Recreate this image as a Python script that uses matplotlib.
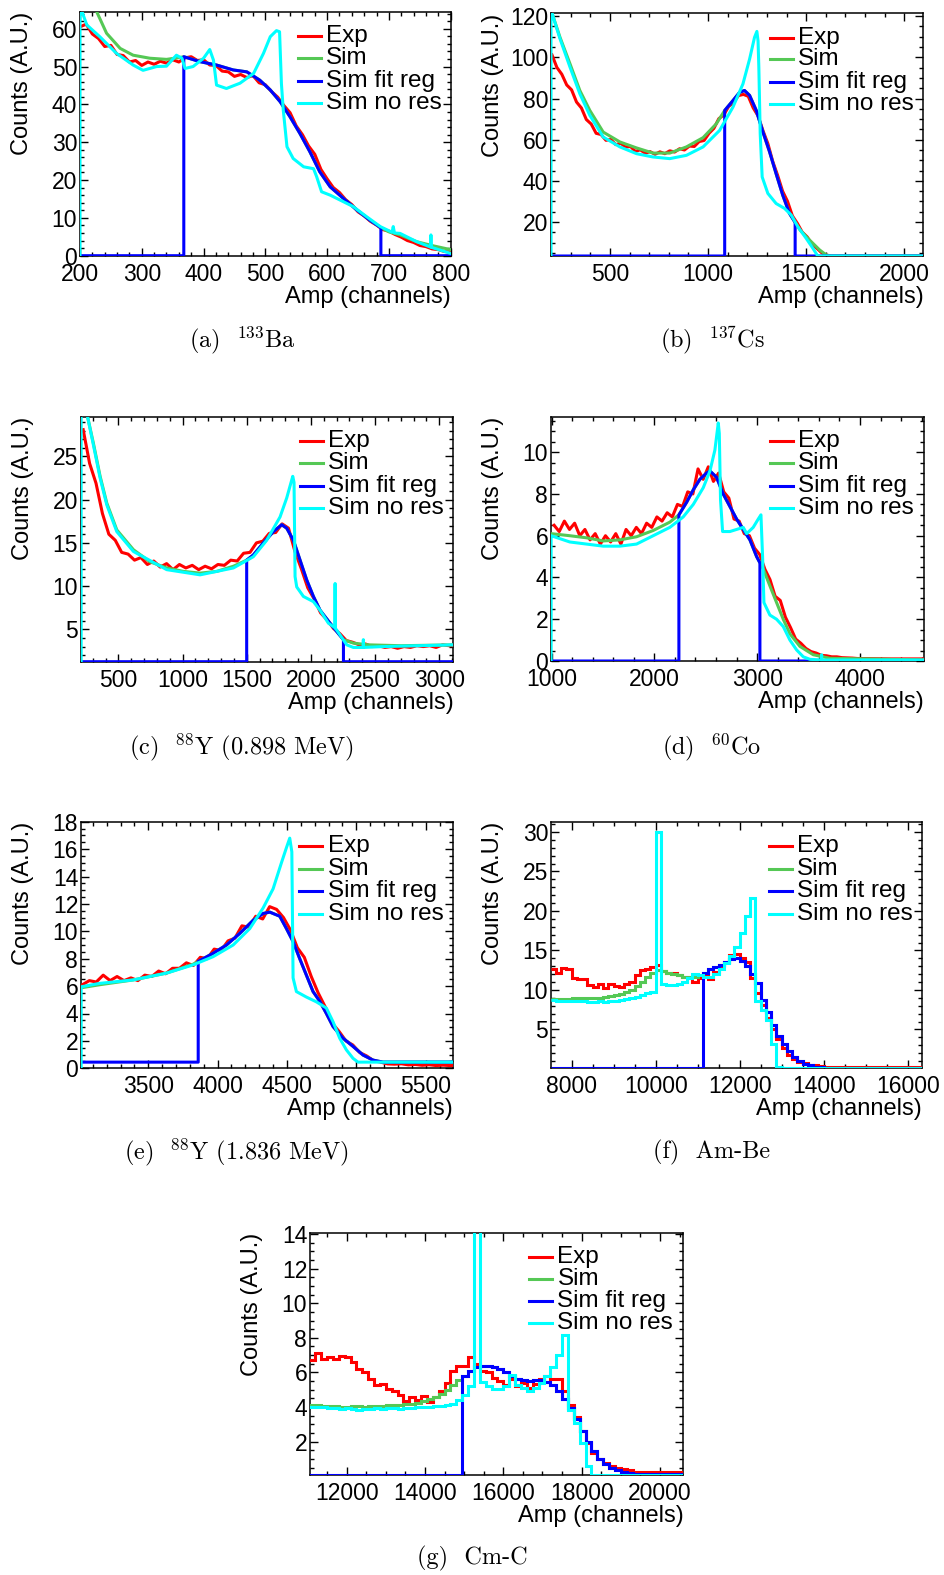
import numpy as np
import matplotlib
matplotlib.use("Agg")
import matplotlib.pyplot as plt
from matplotlib.ticker import MultipleLocator

plt.rcParams["font.family"] = "Liberation Sans"
plt.rcParams["mathtext.fontset"] = "cm"

LABELS = ["Exp", "Sim", "Sim fit reg", "Sim no res"]
COLORS = ["#ff0000", "#55c855", "#0000ff", "#00ffff"]

# ---------------- (a) 133Ba ----------------
a_exp_x0, a_exp_dx = 200, 10
a_exp = [60.5, 61.2, 58.6, 57.4, 55.3, 55.6, 53.2, 52.9, 51.2, 51.6, 50.3, 51.2, 50.6, 51.4, 50.9,
         51.8, 51.2, 52.3, 52.6, 51.6, 51.8, 50.4, 50.3, 48.8, 48.6, 47.4, 47.9, 47.1, 47.6, 45.7,
         45.2, 43.4, 41.9, 39.7, 37.8, 34.3, 32.0, 29.0, 26.8, 22.8, 20.3, 18.0, 16.7, 14.8, 13.5,
         11.6, 10.5, 9.1, 8.1, 6.9, 6.5, 5.6, 4.9, 4.0, 3.5, 2.7, 2.4, 1.8, 1.6, 1.1, 1.0]
a_sim_x = [200, 215, 227, 243, 265, 286, 313, 340, 362, 368, 394, 421, 448, 470, 491, 508, 524,
           540, 556, 572, 588, 605, 626, 648, 669, 687, 700, 718, 745, 772, 800]
a_sim = [72, 67, 64.5, 58.8, 54.8, 53, 52.2, 51.9, 52.4, 52.6, 51.3, 50.4, 49.1, 48.6, 46.4, 43.8,
         40.7, 36.7, 32.3, 27.5, 22.2, 18.2, 15.2, 12.1, 9.4, 7.4, 6.3, 5.5, 3.7, 2.6, 1.6]
a_fit = (368, 687)
a_nores_x = [200, 200, 211, 232, 259, 286, 302, 324, 340, 356, 365, 370, 383, 400, 410, 416, 421,
             437, 459, 481, 497, 508, 518, 523, 526, 529, 535, 545, 562, 578, 583, 591, 605, 626,
             642, 664, 686, 705, 707, 709, 718, 745, 767, 768, 769, 800]
a_nores = [0, 66, 61, 57.9, 53.5, 50.4, 49, 50, 50.1, 53, 52.2, 49.5, 50, 52.2, 54.5, 51.7, 45.1,
           44.2, 45.6, 48.2, 53.5, 57.9, 59.5, 59.2, 45.5, 38.5, 28.8, 25.7, 23.5, 23, 20.9, 16.9,
           16, 14.3, 13, 10.3, 7.7, 6.2, 7.7, 6.0, 5.9, 3.7, 2.3, 5.5, 2.2, 0.6]

# ---------------- (b) 137Cs ----------------
b_exp_x0, b_exp_dx = 205, 25
b_exp = [101.2, 95.1, 91.8, 86.6, 84.2, 78.3, 75.4, 69.8, 67.6, 63.1, 62.5, 59.7, 60.1, 57.6, 58.3,
         56.4, 56.7, 54.3, 55.1, 53.4, 54.2, 52.9, 54.1, 53.2, 54.6, 54.0, 55.6, 55.0, 56.9, 56.7,
         59.1, 59.6, 63.1, 65.5, 70.2, 72.0, 76.1, 78.0, 81.4, 82.0, 81.1, 75.5, 71.6, 64.4, 58.1,
         49.4, 42.6, 35.0, 30.1, 23.0, 19.4, 15.1, 12.8, 9.2, 7.2, 5.0, 3.9]
b_exp_tail = ([1630, 2100], [0.0, 0.0])
b_sim_x = [200, 246, 297, 347, 398, 466, 551, 636, 720, 805, 890, 975, 1042, 1085, 1127, 1161,
           1186, 1212, 1246, 1280, 1314, 1347, 1381, 1415, 1444, 1470, 1517, 1568, 1602, 1625, 2100]
b_sim = [123, 109.7, 96.8, 83.9, 74.2, 63.7, 58.9, 56, 53.5, 53.5, 56.5, 61, 67.7, 74.2, 79, 83,
         83.9, 81.5, 74.2, 63.7, 54, 43.5, 33, 24.2, 19.8, 16.0, 11.3, 6.5, 4.0, 0, 0]
b_fit = (1085, 1444)
b_nores_x = [200, 200, 246, 297, 347, 398, 466, 551, 636, 720, 805, 890, 975, 1059, 1127, 1178,
             1212, 1237, 1249, 1255, 1259, 1266, 1276, 1305, 1347, 1390, 1424, 1458, 1500, 1534,
             1559, 1575, 2100]
b_nores = [0, 123, 109, 95.2, 82.3, 71.8, 61.3, 56.5, 53.2, 51.6, 50.8, 52.4, 56.5, 64.5, 75.8,
           87.1, 99.2, 109.7, 112.6, 108, 95.2, 62.9, 41.9, 33.9, 29, 26.6, 23.4, 17.7, 12.1, 7.3,
           3.5, 0, 0]

# ---------------- (c) 88Y 0.898 MeV ----------------
c_exp_x0, c_exp_dx = 225, 50
c_exp = [28.1, 24.2, 21.9, 18.4, 16.0, 15.3, 13.9, 13.7, 13.0, 13.3, 12.5, 12.9, 12.2, 12.6, 11.9,
         12.5, 12.1, 12.4, 11.9, 12.3, 12.0, 12.5, 12.4, 13.0, 12.9, 13.8, 13.9, 15.0, 15.2, 16.1,
         16.2, 17.2, 16.7, 14.0, 12.0, 9.8, 8.5, 6.9, 6.1, 5.1, 4.5, 3.7, 3.5, 3.2, 3.3, 3.0, 3.1,
         2.9, 3.0, 2.8, 3.0, 2.9, 3.1, 3.0, 3.1, 2.9, 3.2, 3.1]
c_exp_tail = ([3110], [3.1])
c_sim_x = [200, 259, 305, 357, 409, 487, 617, 747, 876, 1006, 1136, 1266, 1396, 1499, 1551, 1629,
           1707, 1772, 1811, 1863, 1915, 1967, 2019, 2071, 2149, 2214, 2253, 2330, 2450, 2700, 3110]
c_sim = [33, 29.6, 26.5, 22.7, 19.6, 16.5, 14.2, 12.8, 12.1, 11.7, 11.5, 11.7, 12.3, 13.0, 13.6,
         15.0, 16.3, 17.1, 16.7, 15.3, 13.0, 10.7, 8.8, 7.2, 5.7, 4.5, 3.8, 3.4, 3.2, 3.1, 3.2]
c_fit = (1499, 2253)
c_nores_x = [209, 209, 259, 305, 357, 409, 487, 617, 876, 1136, 1396, 1551, 1655, 1759, 1811, 1858,
             1868, 1876, 1889, 1941, 2019, 2071, 2136, 2186, 2188, 2190, 2201, 2279, 2330, 2406,
             2408, 2410, 2564, 3110]
c_nores = [0, 33, 29.6, 26.3, 22.5, 19.4, 16.3, 14.0, 11.9, 11.3, 12.1, 13.4, 15.3, 18.0, 20.2,
           22.7, 22.0, 11.1, 9.9, 8.8, 8.2, 7.2, 5.7, 5.2, 10.3, 5.1, 4.9, 3.2, 2.9, 2.9, 3.8, 2.9,
           3.0, 3.2]

# ---------------- (d) 60Co ----------------
d_exp_x0, d_exp_dx = 1025, 50
d_exp = [6.5, 6.2, 6.7, 6.3, 6.6, 6.0, 6.3, 5.8, 6.1, 5.6, 6.0, 5.7, 6.1, 5.6, 6.3, 6.0, 6.4, 6.1,
         6.6, 6.4, 6.9, 6.7, 7.1, 6.9, 7.5, 7.4, 8.1, 8.0, 9.2, 8.7, 9.3, 8.6, 9.0, 8.1, 7.8, 6.8,
         6.7, 6.1, 6.0, 5.4, 5.1, 4.4, 3.9, 3.1, 2.9, 2.1, 1.6, 1.05, 0.85, 0.6, 0.45, 0.38, 0.27,
         0.25, 0.2, 0.2, 0.16, 0.15, 0.14, 0.12]
d_exp_tail = ([4300, 4625], [0.1, 0.1])
d_sim_x = [995, 1178, 1341, 1503, 1665, 1827, 1989, 2151, 2239, 2314, 2379, 2443, 2508, 2541, 2605,
           2670, 2735, 2800, 2865, 2930, 2995, 3027, 3060, 3124, 3189, 3254, 3319, 3416, 3546,
           3708, 4625]
d_sim = [6.1, 6.0, 5.9, 5.75, 5.8, 5.95, 6.25, 6.65, 7.0, 7.6, 8.2, 8.7, 9.0, 9.1, 8.8, 8.0, 7.4,
         6.8, 6.3, 5.8, 5.0, 4.7, 4.4, 3.6, 2.8, 2.0, 1.3, 0.7, 0.3, 0.13, 0.05]
d_fit = (2239, 3027)
d_nores_x = [996, 996, 1178, 1503, 1665, 1827, 1989, 2151, 2281, 2379, 2476, 2541, 2589, 2622, 2632,
             2644, 2664, 2735, 2800, 2865, 2898, 2962, 3011, 3037, 3053, 3066, 3124, 3189, 3254,
             3319, 3384, 3449, 3514, 3625, 3627, 3629, 4625]
d_nores = [0, 6.0, 5.7, 5.5, 5.5, 5.6, 6.0, 6.4, 6.9, 7.5, 8.3, 9.1, 10.1, 11.4, 10.9, 7.7, 6.2,
           6.2, 6.3, 6.4, 6.1, 6.4, 6.8, 7.0, 5.0, 2.8, 2.2, 2.0, 1.65, 1.0, 0.53, 0.2, 0.08, 0.05,
           0.3, 0.05, 0.05]

# ---------------- (e) 88Y 1.836 MeV ----------------
e_exp_x0, e_exp_dx = 3025, 50
e_exp = [6.1, 6.4, 6.3, 6.8, 6.4, 6.7, 6.4, 6.6, 6.4, 6.8, 6.7, 7.1, 6.9, 7.3, 7.3, 7.7, 7.5, 8.1,
         8.0, 8.7, 8.6, 9.3, 9.5, 10.4, 10.3, 11.1, 10.9, 11.8, 11.6, 11.0, 10.1, 8.8, 8.1, 6.7,
         5.5, 4.5, 3.3, 2.7, 2.0, 1.7, 1.15, 0.9, 0.55, 0.45, 0.32, 0.3, 0.33, 0.25, 0.28, 0.22,
         0.26, 0.2, 0.23, 0.2]
e_exp_tail = ([5700], [0.2])
e_sim_x = [3000, 3150, 3392, 3632, 3824, 3860, 3968, 4064, 4160, 4256, 4328, 4376, 4448, 4496,
           4544, 4592, 4640, 4688, 4736, 4784, 4832, 4904, 4976, 5048, 5120, 5192, 5700]
e_sim = [5.85, 6.1, 6.45, 6.95, 7.6, 7.8, 8.4, 9.0, 9.85, 10.8, 11.3, 11.4, 11.1, 10.2, 9.25, 8.0,
         6.8, 5.6, 4.9, 4.0, 3.05, 2.2, 1.6, 0.97, 0.6, 0.45, 0.45]
e_fit = (3860, 5700)
e_fit_base = 0.45
e_nores_x = [3016, 3016, 3150, 3392, 3632, 3824, 3968, 4112, 4232, 4328, 4400, 4460, 4496, 4520,
             4535, 4544, 4568, 4640, 4712, 4784, 4832, 4880, 4928, 4976, 5012, 5700]
e_nores = [0, 5.95, 6.2, 6.45, 6.95, 7.55, 8.15, 9.0, 10.2, 11.7, 13.1, 15.0, 16.1, 16.8, 15.8,
           6.6, 5.6, 5.2, 4.85, 4.4, 3.4, 2.2, 1.35, 0.73, 0.45, 0.45]

# ---------------- (f) Am-Be  (125-channel bins, last bin wide) ----------------
f_edges = np.append(np.arange(7500, 14001, 125), 16400)
f_exp = [12.7, 12.2, 12.8, 12.6, 11.5, 11.4, 11.4, 10.6, 10.4, 10.8, 10.3, 10.7, 10.5, 10.4, 10.7,
         11.0, 11.9, 12.5, 12.7, 12.9, 13.1, 12.4, 12.2, 12.1, 11.9, 11.6, 11.7, 11.0, 11.5, 11.9,
         11.4, 12.3, 13.0, 13.6, 14.4, 14.6, 14.0, 13.5, 11.5, 9.6, 8.1, 6.5, 5.1, 3.8, 2.7, 1.8,
         1.25, 0.9, 0.7, 0.55, 0.45, 0.35, 0.2]
f_sim = [8.9, 8.9, 8.9, 8.9, 8.95, 9.0, 9.0, 9.0, 9.0, 9.0, 9.1, 9.2, 9.35, 9.5, 9.7, 10.0, 10.5,
         11.0, 11.6, 12.1, 12.5, 12.4, 12.2, 12.0, 11.9, 11.7, 11.6, 11.6, 11.9, 12.1, 12.6, 12.9,
         13.2, 13.5, 13.9, 14.0, 13.7, 13.0, 12.0, 10.9, 8.7, 7.2, 5.6, 4.2, 3.2, 2.3, 1.5, 1.0,
         0.65, 0.45, 0.3, 0.2, 0.12]
f_fit = (11080, 16400)
f_nores = [8.7, 8.6, 8.6, 8.6, 8.6, 8.55, 8.6, 8.5, 8.5, 8.55, 8.5, 8.6, 8.6, 8.7, 8.8, 9.0, 9.1,
           9.3, 9.6, 9.8, 30.0, 10.8, 10.6, 10.6, 10.7, 11.0, 11.5, 12.0, 11.9, 11.7, 11.7, 12.0,
           12.7, 13.4, 14.3, 15.5, 17.2, 19.4, 21.6, 8.6, 7.4, 6.2, 3.2, 0.3, 0, 0, 0, 0, 0, 0, 0,
           0, 0]

# ---------------- (g) Cm-C  (150-channel bins, last bin wide) ----------------
g_edges = np.append(np.arange(11050, 19301, 150), 20700)
g_exp = [6.7, 7.1, 6.8, 6.9, 6.8, 6.95, 6.9, 6.6, 6.2, 6.05, 5.6, 5.3, 5.35, 5.05, 4.9, 4.7, 4.35,
         4.6, 4.4, 4.65, 4.3, 4.6, 4.9, 5.4, 6.1, 6.4, 6.4, 6.9, 6.5, 6.1, 6.0, 5.7, 5.5, 5.3, 5.6,
         5.2, 5.4, 5.1, 5.35, 5.6, 5.8, 5.6, 5.6, 4.9, 4.1, 3.4, 2.6, 1.9, 1.35, 1.0, 0.75, 0.6,
         0.5, 0.4, 0.35, 0.22]
g_sim = [4.1, 4.1, 4.05, 4.05, 4.05, 4.0, 4.0, 4.05, 4.05, 4.0, 4.05, 4.05, 4.05, 4.1, 4.1, 4.1,
         4.15, 4.2, 4.25, 4.35, 4.45, 4.6, 4.75, 5.0, 5.25, 5.55, 5.8, 6.1, 6.3, 6.4, 6.4, 6.3, 6.2,
         6.0, 5.8, 5.6, 5.55, 5.5, 5.55, 5.55, 5.45, 5.25, 4.9, 4.45, 3.95, 3.3, 2.6, 2.0, 1.45,
         1.0, 0.7, 0.5, 0.35, 0.25, 0.18, 0.13]
g_fit = (15004, 20700)
g_nores = [4.0, 4.0, 4.0, 3.95, 3.95, 3.9, 3.95, 3.9, 3.85, 3.9, 3.9, 3.95, 3.9, 3.95, 3.95, 3.9,
           3.95, 3.95, 4.0, 4.0, 4.0, 4.05, 4.05, 4.1, 4.2, 4.4, 4.7, 5.2, 14.5, 5.45, 5.2, 5.05,
           5.05, 5.2, 5.85, 5.3, 5.1, 4.95, 5.1, 5.4, 5.8, 6.3, 7.0, 8.15, 3.8, 3.1, 1.9, 0.6, 0, 0,
           0, 0, 0, 0, 0, 0]

# ---------------- layout ----------------
W, H = 944, 1575
LW = 2.2
LEG_Y = [0.900, 0.810, 0.718, 0.627]

fig = plt.figure(figsize=(W / 100, H / 100), dpi=100)


def fx(px):
    return px / W


def fy(py):
    return 1 - py / H


def make_axes(box, xlim, ylim, xt, yt, caption, cap_xy):
    l, t, r, b = box
    ax = fig.add_axes([fx(l), fy(b), (r - l) / W, (b - t) / H])
    ax.set_xlim(*xlim)
    ax.set_ylim(*ylim)
    ax.xaxis.set_major_locator(MultipleLocator(xt[0]))
    ax.xaxis.set_minor_locator(MultipleLocator(xt[1]))
    ax.yaxis.set_major_locator(MultipleLocator(yt[0]))
    ax.yaxis.set_minor_locator(MultipleLocator(yt[1]))
    ax.tick_params(which="both", direction="in", top=True, right=True, labelsize=16.5, width=1)
    ax.tick_params(which="major", length=5.5)
    ax.tick_params(which="minor", length=2.8)
    ax.tick_params(axis="x", which="major", pad=5)
    ax.tick_params(axis="y", which="major", pad=2)
    for s in ax.spines.values():
        s.set_linewidth(1.1)
    fig.text(fx(l - 58), fy(t), "Counts (A.U.)", rotation=90, ha="center", va="top", fontsize=17)
    fig.text(fx(r), fy(b + 41), "Amp (channels)", ha="right", va="center", fontsize=17)
    fig.text(fx(cap_xy[0]), fy(cap_xy[1]), caption, ha="center", va="center",
             fontsize=17.5, family="cmr10")
    # legend, ROOT style (no frame)
    for yy, lab, col in zip(LEG_Y, LABELS, COLORS):
        ax.plot([0.587, 0.649], [yy, yy], transform=ax.transAxes, color=col, lw=LW, clip_on=False)
        ax.text(0.663, yy, lab, transform=ax.transAxes, fontsize=17.5, ha="left", va="center")
    return ax


def curve(ax, x, y, color):
    ylo = ax.get_ylim()[0]
    ax.plot(x, np.maximum(np.asarray(y, float), ylo), color=color, lw=LW, zorder=3)


def exp_curve(ax, x0, dx, vals, tail=None):
    v = np.asarray(vals, float)
    x = x0 + dx * np.arange(len(v))
    if tail is not None:
        x = np.append(x, tail[0])
        v = np.append(v, tail[1])
    curve(ax, x, v, COLORS[0])


def fit_curve(ax, x, y, fit, base=0.0):
    x = np.asarray(x, float)
    y = np.asarray(y, float)
    lo, hi = fit
    m = (x >= lo) & (x <= hi)
    x0, x1 = ax.get_xlim()
    bx = np.concatenate([[x0 - 50, lo], x[m], [hi, x1 + 50]])
    by = np.concatenate([[base, base], y[m], [base, base]])
    curve(ax, bx, by, COLORS[2])


def hist(ax, edges, vals, color):
    ylo = ax.get_ylim()[0]
    ax.stairs(np.maximum(np.asarray(vals, float), ylo), edges, baseline=None,
              color=color, lw=LW, zorder=3)


def line_panel(ax, ex, sim_x, sim, fit, nores_x, nores, base=0.0):
    exp_curve(ax, *ex)
    curve(ax, sim_x, sim, COLORS[1])
    fit_curve(ax, sim_x, sim, fit, base)
    curve(ax, nores_x, nores, COLORS[3])


def hist_panel(ax, edges, exp, sim, fit, nores):
    centers = (edges[:-1] + edges[1:]) / 2
    hist(ax, edges, exp, COLORS[0])
    hist(ax, edges, sim, COLORS[1])
    blue = np.where((centers >= fit[0]) & (centers <= fit[1]), sim, 0.0)
    hist(ax, edges, blue, COLORS[2])
    hist(ax, edges, nores, COLORS[3])


ax = make_axes((80, 11.7, 450.7, 255.7), (200, 800), (0, 64.5), (100, 20), (10, 2),
               r"(a)  $^{133}$Ba", (242, 340))
line_panel(ax, (a_exp_x0, a_exp_dx, a_exp), a_sim_x, a_sim, a_fit, a_nores_x, a_nores)

ax = make_axes((551, 13.3, 923.3, 256), (200, 2097), (3.5, 121.4), (500, 100), (20, 5),
               r"(b)  $^{137}$Cs", (712, 340))
line_panel(ax, (b_exp_x0, b_exp_dx, b_exp, b_exp_tail), b_sim_x, b_sim, b_fit, b_nores_x, b_nores)

ax = make_axes((81, 416.7, 453.3, 661.7), (208, 3109), (1.25, 29.6), (500, 100), (5, 1),
               r"(c)  $^{88}$Y (0.898 MeV)", (242, 747))
line_panel(ax, (c_exp_x0, c_exp_dx, c_exp, c_exp_tail), c_sim_x, c_sim, c_fit, c_nores_x, c_nores)

ax = make_axes((551, 416.7, 924, 661), (995, 4623), (0, 11.7), (1000, 200), (2, 0.5),
               r"(d)  $^{60}$Co", (712, 747))
line_panel(ax, (d_exp_x0, d_exp_dx, d_exp, d_exp_tail), d_sim_x, d_sim, d_fit, d_nores_x, d_nores)

ax = make_axes((81, 821.7, 453, 1068.3), (3015, 5697), (0, 18), (500, 100), (2, 0.5),
               r"(e)  $^{88}$Y (1.836 MeV)", (237, 1152))
line_panel(ax, (e_exp_x0, e_exp_dx, e_exp, e_exp_tail), e_sim_x, e_sim, e_fit, e_nores_x, e_nores,
           e_fit_base)

ax = make_axes((551, 821.7, 922, 1068.3), (7508, 16341), (0.08, 31.3), (2000, 500), (5, 1),
               "(f)  Am-Be", (712, 1152))
hist_panel(ax, f_edges, f_exp, f_sim, f_fit, f_nores)

ax = make_axes((310, 1232.7, 683.3, 1475), (11064, 20596), (0.07, 14.08), (2000, 500), (2, 0.5),
               "(g)  Cm-C", (472, 1558))
hist_panel(ax, g_edges, g_exp, g_sim, g_fit, g_nores)

fig.savefig("out.png", dpi=100)
